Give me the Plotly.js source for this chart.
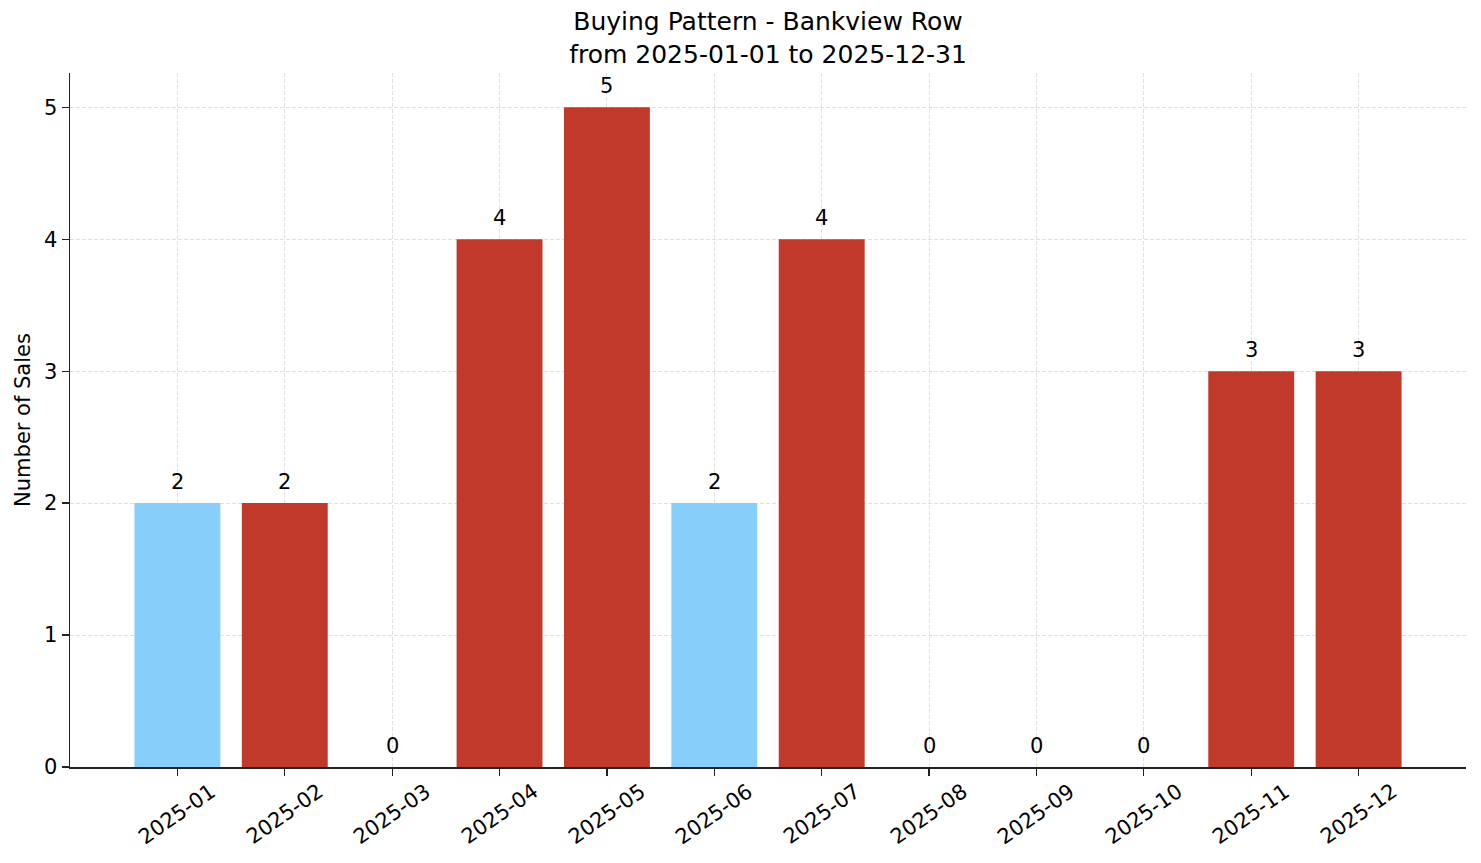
<html>
<head>
    <meta charset="UTF-8">
    <script src="https://cdn.plot.ly/plotly-3.0.1.min.js"></script>
</head>
<body style="margin: 0; background-color: white;">
    <div id="plot" style="width: 1481px; height: 863px;"></div>
    <script>
        const months = ['2025-01', '2025-02', '2025-03', '2025-04', '2025-05', '2025-06',
            '2025-07', '2025-08', '2025-09', '2025-10', '2025-11', '2025-12'];
        const sales = [2, 2, 0, 4, 5, 2, 4, 0, 0, 0, 3, 3];
        // months drawn in light blue, all others red
        const highlighted = ['2025-01', '2025-06'];

        const red = '#c0392b';
        const blue = '#87cefa';
        const xs = months.map(function (m, i) { return i; });

        const trace = {
            x: xs,
            y: sales,
            type: 'bar',
            width: 0.8,
            marker: {
                color: months.map(function (m) {
                    return highlighted.indexOf(m) >= 0 ? blue : red;
                })
            },
            hoverinfo: 'skip'
        };

        // value labels above each bar
        const valueLabels = sales.map(function (v, i) {
            return {
                x: xs[i], y: v, xref: 'x', yref: 'y',
                text: String(v), showarrow: false,
                xanchor: 'center', yanchor: 'bottom', yshift: 7,
                font: { size: 21, color: 'black' }
            };
        });

        // rotated month labels, centred under the ticks
        const tickLabels = months.map(function (m, i) {
            return {
                x: xs[i], y: 0, xref: 'x', yref: 'paper',
                text: m, showarrow: false, textangle: -35,
                xanchor: 'center', yanchor: 'middle', yshift: -47,
                font: { size: 21, color: 'black' }
            };
        });

        const gridStyle = {
            showgrid: true,
            gridcolor: 'rgba(0,0,0,0.15)',
            griddash: '4px,2px',
            gridwidth: 0.8
        };

        const layout = {
            font: { family: 'DejaVu Sans', size: 21, color: 'black' },
            paper_bgcolor: 'white',
            plot_bgcolor: 'white',
            margin: { l: 70, r: 15, t: 73, b: 96 },
            showlegend: false,
            title: {
                text: 'Buying Pattern - Bankview Row<br>from 2025-01-01 to 2025-12-31',
                font: { size: 25 },
                x: 0.5186,
                xanchor: 'center',
                y: 0.965,
                yanchor: 'top'
            },
            xaxis: Object.assign({
                range: [-1, 12],
                tickmode: 'array',
                tickvals: xs,
                showticklabels: false,
                ticks: 'outside',
                ticklen: 7,
                tickwidth: 1.3,
                tickcolor: '#222',
                showline: true,
                linecolor: '#222',
                linewidth: 1.5,
                zeroline: false
            }, gridStyle),
            yaxis: Object.assign({
                range: [0, 5.26],
                tickvals: [0, 1, 2, 3, 4, 5],
                ticks: 'outside',
                ticklen: 7,
                tickwidth: 1.3,
                tickcolor: '#222',
                showline: true,
                linecolor: '#222',
                linewidth: 1.5,
                zeroline: false,
                title: { text: 'Number of Sales', font: { size: 21 }, standoff: 7 }
            }, gridStyle),
            annotations: valueLabels.concat(tickLabels)
        };

        Plotly.newPlot('plot', [trace], layout, { staticPlot: true });
    </script>
</body>
</html>
